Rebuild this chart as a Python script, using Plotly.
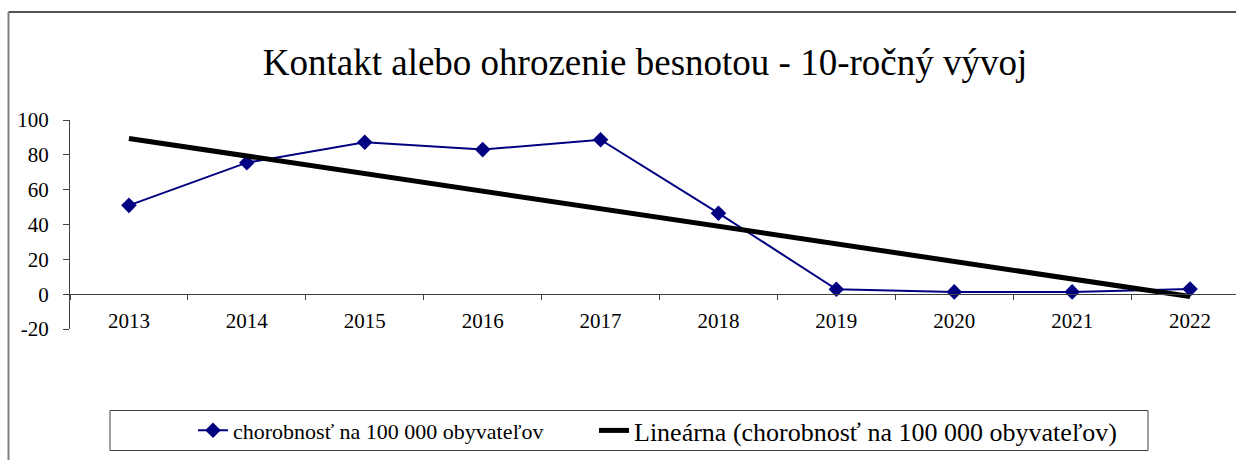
import numpy as np
import plotly.graph_objects as go

years = ["2013", "2014", "2015", "2016", "2017", "2018", "2019", "2020", "2021", "2022"]
values = [51.0, 75.5, 87.2, 83.0, 88.7, 46.5, 2.8, 1.3, 1.3, 2.9]
y_ticks = [-20, 0, 20, 40, 60, 80, 100]
y_tick_labels = ["-20", "0", "20", "40", "60", "80", "100"]

title_text = "Kontakt alebo ohrozenie besnotou - 10-ročný vývoj"
series_name = "chorobnosť na 100 000 obyvateľov"
trend_name = "Lineárna (chorobnosť na 100 000 obyvateľov)"

# Linear trendline (least squares, as in the spreadsheet trendline)
idx = np.arange(len(values))
slope, intercept = np.polyfit(idx, values, 1)
trend = list(slope * idx + intercept)

W, H = 1236, 460
L, R, T, B = 70, 0, 120, 131
pw = W - L - R
ph = H - T - B

def px_x(p):
    return (p - L) / pw

def px_y(p):
    return (H - B - p) / ph

FONT = "Liberation Serif, Times New Roman, serif"

fig = go.Figure()
fig.add_trace(go.Scatter(
    x=years, y=values, name=series_name, mode="lines+markers",
    line=dict(color="#000080", width=2),
    marker=dict(symbol="diamond", size=12, color="#000080"),
    legend="legend",
))
fig.add_trace(go.Scatter(
    x=years, y=trend, name=trend_name, mode="lines",
    line=dict(color="#000000", width=5),
    legend="legend2",
))

fig.update_layout(
    width=W, height=H,
    margin=dict(l=L, r=R, t=T, b=B),
    paper_bgcolor="white", plot_bgcolor="white",
    font=dict(family=FONT, size=21, color="black"),
    title=dict(text=title_text, font=dict(family=FONT, size=37, color="black"),
               x=645 / W, xref="container", xanchor="center",
               y=1 - 62 / H, yref="container", yanchor="middle"),
    showlegend=True,
    legend=dict(x=px_x(193), xanchor="left", y=px_y(430.5), yanchor="middle",
                orientation="h", bgcolor="rgba(0,0,0,0)", borderwidth=0,
                font=dict(family=FONT, size=22, color="black")),
    legend2=dict(x=px_x(594), xanchor="left", y=px_y(430.5), yanchor="middle",
                 orientation="h", bgcolor="rgba(0,0,0,0)", borderwidth=0,
                 font=dict(family=FONT, size=26, color="black")),
    xaxis=dict(type="category", range=[-0.5, -0.5 + pw / 117.9],
               anchor="free", position=20 / 120,
               showline=True, linecolor="#404040", linewidth=1,
               ticks="outside", tickson="boundaries", ticklen=5, tickcolor="#404040",
               showgrid=False, zeroline=False, ticklabelstandoff=8,
               tickfont=dict(family=FONT, size=21, color="black")),
    yaxis=dict(range=[-20, 100], tickvals=y_ticks, ticktext=y_tick_labels,
               showline=True, linecolor="#404040",
               linewidth=1, ticks="outside", ticklen=6, tickcolor="#404040",
               showgrid=False, zeroline=False, ticklabelstandoff=10,
               tickfont=dict(family=FONT, size=21, color="black")),
    shapes=[
        # chart outer border (top and left visible)
        dict(type="line", xref="paper", yref="paper",
             x0=px_x(8.5), x1=px_x(1240), y0=px_y(12), y1=px_y(12),
             line=dict(color="#1a1a1a", width=1.5)),
        dict(type="line", xref="paper", yref="paper",
             x0=px_x(8.5), x1=px_x(8.5), y0=px_y(12), y1=px_y(465),
             line=dict(color="#808080", width=2)),
        # legend box
        dict(type="rect", xref="paper", yref="paper",
             x0=px_x(110), x1=px_x(1148), y0=px_y(410.5), y1=px_y(450.5),
             line=dict(color="#404040", width=1), fillcolor="rgba(0,0,0,0)"),
    ],
)

fig.write_html("out.html", config={"displayModeBar": False},
               post_script="document.body.style.margin='0';document.body.style.overflow='hidden';")
